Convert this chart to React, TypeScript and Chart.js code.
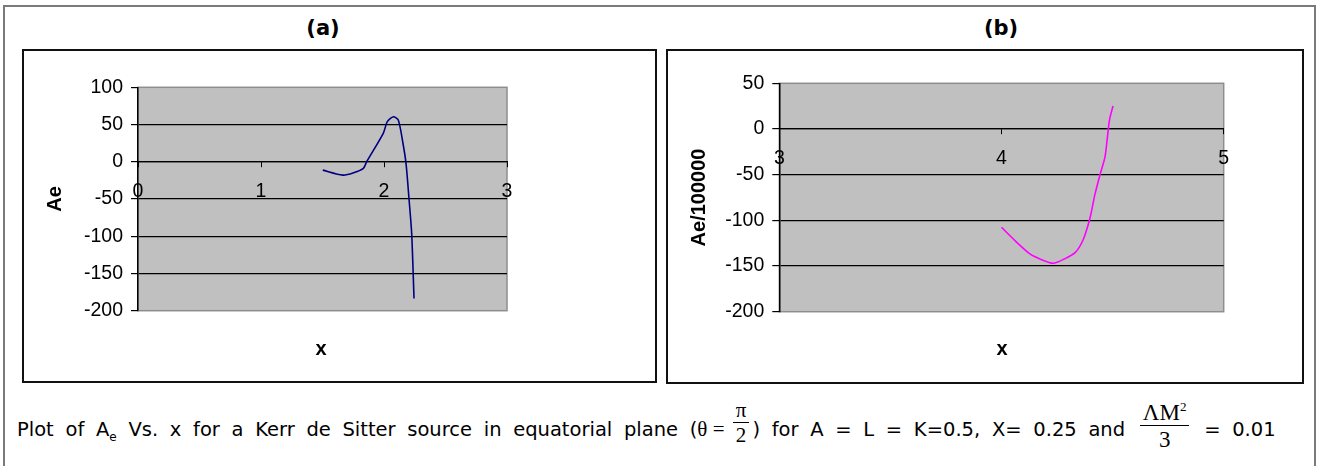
import React, { useEffect, useRef } from "react";
import { Chart, registerables } from "chart.js";

Chart.register(...registerables);

// ---- Data ----
// Panel (a): Ae vs x
const xA = [1.502, 1.664, 1.748, 1.832, 1.859, 1.994, 2.027, 2.076, 2.116, 2.152, 2.179, 2.203, 2.225, 2.244];
const aeA = [-11.2, -17.9, -15.2, -8.9, 0, 38.2, 53.8, 60.5, 56, 26.9, -2.2, -49.2, -96.2, -183.6];
// Panel (b): Ae/100000 vs x
const xB = [4.0, 4.064, 4.128, 4.173, 4.233, 4.285, 4.331, 4.367, 4.398, 4.42, 4.443, 4.466, 4.486, 4.502];
const aeB = [-107.6, -123, -136.8, -142.3, -147, -142, -135.4, -121.5, -97.7, -72.2, -50.4, -30.3, 9.9, 25.2];

const xRangeA = [0, 3];
const yRangeA = [-200, 100];
const xRangeB = [3, 5];
const yRangeB = [-200, 50];
const yStep = 50;
const xStep = 1;

const panelTitles = ["(a)", "(b)"];
const yTitles = ["Ae", "Ae/100000"];
const xTitle = "x";

const FONT = "'Liberation Sans', Arial, Helvetica, sans-serif";
const DOCFONT = "'DejaVu Sans', Verdana, sans-serif";
const SERIF = "'Liberation Serif', 'Times New Roman', serif";

const plotBg = {
  id: "plotBg",
  beforeDraw(chart: any) {
    const { ctx, chartArea } = chart;
    const { left, top, right, bottom } = chartArea;
    ctx.save();
    ctx.fillStyle = "#C0C0C0";
    ctx.fillRect(left, top, right - left, bottom - top);
    ctx.strokeStyle = "#8e8e8e";
    ctx.lineWidth = 1.5;
    ctx.strokeRect(left, top, right - left, bottom - top);
    ctx.restore();
  },
};

type PanelProps = {
  xs: number[];
  ys: number[];
  color: string;
  xRange: number[];
  yRange: number[];
  yTitle: string;
  w: number;
  h: number;
  area: { left: number; top: number; right: number; bottom: number };
  pos: { left: number; top: number };
};

function Panel(p: PanelProps) {
  const ref = useRef<HTMLCanvasElement | null>(null);
  useEffect(() => {
    if (!ref.current) return;
    const chart = new Chart(ref.current, {
      type: "line",
      data: {
        datasets: [
          {
            data: p.xs.map((x, i) => ({ x, y: p.ys[i] })),
            borderColor: p.color,
            borderWidth: 1.6,
            pointRadius: 0,
            tension: 0.25,
            fill: false,
          },
        ],
      },
      plugins: [plotBg],
      options: {
        responsive: false,
        maintainAspectRatio: false,
        animation: false,
        layout: {
          padding: {
            left: 0,
            top: p.area.top,
            right: p.w - p.area.right,
            bottom: p.h - p.area.bottom,
          },
        },
        plugins: {
          legend: { display: false },
          tooltip: { enabled: false },
        },
        scales: {
          x: {
            type: "linear",
            position: { y: 0 } as any,
            min: p.xRange[0],
            max: p.xRange[1],
            ticks: {
              stepSize: xStep,
              color: "#000",
              padding: 13,
              font: { family: FONT, size: 19.5 },
              maxRotation: 0,
            },
            grid: {
              drawOnChartArea: false,
              drawTicks: true,
              tickLength: 5,
              tickColor: "#000",
              color: "#000",
            },
            border: { display: true, color: "#000", width: 1.2 },
          },
          y: {
            type: "linear",
            position: "left",
            min: p.yRange[0],
            max: p.yRange[1],
            afterFit: (scale: any) => {
              scale.width = p.area.left;
            },
            ticks: {
              stepSize: yStep,
              color: "#000",
              padding: 8,
              font: { family: FONT, size: 19.5 },
            },
            grid: {
              color: (c: any) =>
                c.tick && (c.tick.value === p.yRange[0] || c.tick.value === p.yRange[1])
                  ? "rgba(0,0,0,0)"
                  : "#000",
              lineWidth: 1.2,
              drawTicks: true,
              tickLength: 7,
              tickColor: "#000",
              tickWidth: 1.2,
            },
            border: { display: true, color: "#000", width: 1.5 },
            title: {
              display: true,
              text: p.yTitle,
              color: "#000",
              font: { family: FONT, size: 20, weight: "bold" },
              padding: { top: 21, bottom: 0 },
            },
          },
        },
      } as any,
    });
    return () => chart.destroy();
  }, []);
  return (
    <canvas
      ref={ref}
      width={p.w}
      height={p.h}
      style={{ position: "absolute", left: p.pos.left, top: p.pos.top, width: p.w, height: p.h }}
    />
  );
}

const boxStyle = (left: number, top: number, width: number, height: number): React.CSSProperties => ({
  position: "absolute",
  left,
  top,
  width,
  height,
  boxSizing: "border-box",
  border: "2px solid #111",
});

const textStyle = (cx: number, cy: number, size: number, family: string): React.CSSProperties => ({
  position: "absolute",
  left: cx - 100,
  top: cy - size / 2 - 2,
  width: 200,
  textAlign: "center",
  fontFamily: family,
  fontSize: size,
  fontWeight: "bold",
  lineHeight: `${size + 4}px`,
  color: "#000",
});

function Frac({ num, den, size }: { num: React.ReactNode; den: React.ReactNode; size: number }) {
  return (
    <span
      style={{
        display: "inline-flex",
        flexDirection: "column",
        alignItems: "center",
        verticalAlign: "middle",
        position: "relative",
        top: -8,
        fontFamily: SERIF,
        fontSize: size,
        lineHeight: `${size}px`,
        margin: "0 3px",
        wordSpacing: 0,
      }}
    >
      <span style={{ borderBottom: "1.5px solid #000", padding: "0 3px 1px 3px" }}>{num}</span>
      <span style={{ paddingTop: 2 }}>{den}</span>
    </span>
  );
}

export default function App() {
  return (
    <div
      style={{
        position: "fixed",
        left: 0,
        top: 0,
        width: 1321,
        height: 466,
        background: "#fff",
        overflow: "hidden",
      }}
    >
      <div
        style={{
          position: "absolute",
          left: 3,
          top: 5,
          width: 1313,
          height: 500,
          boxSizing: "border-box",
          border: "2px solid #7a7a7a",
        }}
      />
      <div style={textStyle(323, 28, 21, DOCFONT)}>{panelTitles[0]}</div>
      <div style={textStyle(1001, 28, 21, DOCFONT)}>{panelTitles[1]}</div>
      <div style={boxStyle(22, 49, 635, 334)} />
      <div style={boxStyle(666, 49, 638, 335)} />
      <Panel
        xs={xA}
        ys={aeA}
        color="#000080"
        xRange={xRangeA}
        yRange={yRangeA}
        yTitle={yTitles[0]}
        w={635}
        h={334}
        pos={{ left: 22, top: 49 }}
        area={{ left: 116, top: 38.3, right: 485, bottom: 261.7 }}
      />
      <Panel
        xs={xB}
        ys={aeB}
        color="#FF00FF"
        xRange={xRangeB}
        yRange={yRangeB}
        yTitle={yTitles[1]}
        w={638}
        h={335}
        pos={{ left: 666, top: 49 }}
        area={{ left: 113.3, top: 34.3, right: 557.7, bottom: 262.7 }}
      />
      <div style={textStyle(321, 348, 20, FONT)}>{xTitle}</div>
      <div style={textStyle(1002, 348, 20, FONT)}>{xTitle}</div>
      <div
        style={{
          position: "absolute",
          left: 17,
          top: 403,
          whiteSpace: "nowrap",
          fontFamily: DOCFONT,
          fontSize: 19.5,
          lineHeight: "44px",
          wordSpacing: "5.5px",
          color: "#000",
        }}
      >
        Plot of A<sub style={{ fontSize: 12 }}>e</sub> Vs. x for a Kerr de Sitter source in equatorial plane (
        <span style={{ fontFamily: SERIF, fontSize: 21, wordSpacing: 0 }}>θ = </span>
        <Frac num="π" den="2" size={21} />) for A = L = K=0.5, X= 0.25 and{" "}
        <Frac
          num={
            <span>
              ΛM<sup style={{ fontSize: 13 }}>2</sup>
            </span>
          }
          den="3"
          size={23}
        />{" "}
        = 0.01
      </div>
    </div>
  );
}
